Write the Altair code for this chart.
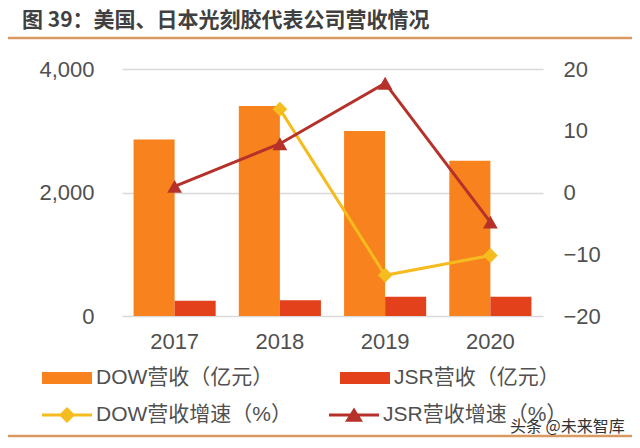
import altair as alt
import pandas as pd

years = ["2017", "2018", "2019", "2020"]
dow_rev = [2860, 3400, 2995, 2513]
jsr_rev = [245, 255, 310, 312]
dow_growth = [None, 13.5, -13.4, -10.2]
jsr_growth = [1.0, 7.9, 17.7, -4.8]
bar_names = ["DOW营收（亿元）", "JSR营收（亿元）"]
growth_names = ["DOW营收增速（%）", "JSR营收增速（%）"]
bar_colors = ["#F7821E", "#E2411B"]
growth_colors = ["#F6BB1F", "#B5312A"]
left_ticks = [0, 2000, 4000]
right_ticks = [-20, -10, 0, 10, 20]
title_text = "图 39：美国、日本光刻胶代表公司营收情况"
watermark = "头条 @未来智库"

FONT = "'Liberation Sans', 'Noto Sans CJK SC', sans-serif"
CJK = "'Noto Sans CJK SC', sans-serif"
TXT = "#505050"

bars_df = pd.DataFrame(
    [{"year": y, "series": bar_names[0], "value": v} for y, v in zip(years, dow_rev)]
    + [{"year": y, "series": bar_names[1], "value": v} for y, v in zip(years, jsr_rev)]
)
growth_df = pd.DataFrame(
    [{"year": y, "metric": growth_names[0], "growth": v} for y, v in zip(years, dow_growth) if v is not None]
    + [{"year": y, "metric": growth_names[1], "growth": v} for y, v in zip(years, jsr_growth)]
)

x_enc = alt.X(
    "year:N", sort=years,
    scale=alt.Scale(domain=years, paddingInner=0.22, paddingOuter=0.11),
    axis=alt.Axis(labelAngle=0, domain=False, ticks=False, labelPadding=15,
                  labelFontSize=22, labelColor=TXT, labelFont=FONT, title=None),
)

bars = alt.Chart(bars_df).mark_bar().encode(
    x=x_enc,
    xOffset=alt.XOffset("series:N", sort=bar_names, scale=alt.Scale(domain=bar_names, paddingInner=0)),
    y=alt.Y("value:Q", scale=alt.Scale(domain=[0, 4000], nice=False),
            axis=alt.Axis(values=left_ticks, format=",.0f", grid=True, gridColor="#D9D9D9",
                          gridWidth=1.3, domain=False, ticks=False, labelPadding=28,
                          labelFontSize=22, labelColor=TXT, labelFont=FONT, title=None,
                          orient="left")),
    color=alt.Color("series:N", sort=bar_names,
                    scale=alt.Scale(domain=bar_names, range=bar_colors),
                    legend=alt.Legend(
                        title=None, orient="none", legendX=-80, legendY=284,
                        direction="horizontal", columns=2, columnPadding=66,
                        symbolType="M-1,-0.24H1V0.24H-1Z", symbolSize=2500,
                        symbolStrokeWidth=0, labelFontSize=21, labelFont=FONT,
                        labelColor=TXT, labelOffset=4, labelLimit=400)),
)

y_right = alt.Y("growth:Q", scale=alt.Scale(domain=[-20, 20], nice=False),
                axis=alt.Axis(values=right_ticks, format=".0f", grid=False, domain=False,
                              ticks=False, labelPadding=20, labelFontSize=22,
                              labelColor=TXT, labelFont=FONT, title=None, orient="right"))

lines = alt.Chart(growth_df).mark_line(strokeWidth=3).encode(
    x=alt.X("year:N", sort=years),
    y=y_right,
    stroke=alt.Stroke("metric:N", scale=alt.Scale(domain=growth_names, range=growth_colors), legend=None),
)

points = alt.Chart(growth_df).mark_point(filled=True, size=220, opacity=1).encode(
    x=alt.X("year:N", sort=years),
    y=alt.Y("growth:Q"),
    fill=alt.Fill("metric:N", scale=alt.Scale(domain=growth_names, range=growth_colors), legend=None),
    shape=alt.Shape("metric:N", scale=alt.Scale(domain=growth_names, range=["diamond", "triangle-up"]), legend=None),
)

legend_b = dict(
    title=None, orient="none", legendX=-80, legendY=321,
    direction="horizontal", columns=2, columnPadding=37,
    symbolSize=2500, symbolStrokeWidth=0, labelFontSize=21, labelFont=FONT,
    labelColor=TXT, labelOffset=4, labelLimit=400,
)
legend_layer = alt.Chart(growth_df).transform_filter("datum.growth > 1000").mark_point(
    filled=True, opacity=1
).encode(
    x=alt.X("year:N", sort=years),
    y=alt.Y("growth:Q"),
    fill=alt.Fill("metric:N", scale=alt.Scale(domain=growth_names, range=growth_colors),
                  legend=alt.Legend(**legend_b)),
    shape=alt.Shape("metric:N", scale=alt.Scale(domain=growth_names, range=[
        "M-1,-0.06H1V0.06H-1Z M0,-0.32L0.32,0L0,0.32L-0.32,0Z",
        "M-1,-0.06H1V0.06H-1Z M0,-0.3L0.36,0.27L-0.36,0.27Z",
    ]), legend=alt.Legend(**legend_b)),
)

right_layer = alt.layer(lines, points, legend_layer).resolve_scale(
    fill="independent", shape="independent"
)

deco = pd.DataFrame({"k": [0]})
top_rule = alt.Chart(deco).mark_rule(color="#D99A62", strokeWidth=2.5).encode(
    x=alt.value(-117), x2=alt.value(513), y=alt.value(-31)
)
bottom_rule = alt.Chart(deco).mark_rule(color="#D99A62", strokeWidth=2.5).encode(
    x=alt.value(-117), x2=alt.value(513), y=alt.value(367)
)
wm = alt.Chart(deco).mark_text(align="left", baseline="middle", font=CJK, fontSize=16,
                               color="#333333").encode(
    x=alt.value(388), y=alt.value(358), text=alt.value(watermark)
)

chart = alt.layer(bars, right_layer, top_rule, bottom_rule, wm).resolve_scale(
    y="independent"
).properties(
    width=421, height=247,
    background="#FFFFFF",
    padding={"left": 114, "top": 61, "right": 89, "bottom": 122},
    autosize=alt.AutoSizeParams(type="none"),
    title=alt.TitleParams(title_text, anchor="start", frame="group", dx=-100, offset=6,
                          fontSize=21, fontWeight="bold", font=CJK, color="#404040"),
).configure_view(stroke="transparent", strokeWidth=0).configure_axis(
    domain=False, ticks=False
)

chart.save("out.html", embed_options={"renderer": "svg", "actions": False})
